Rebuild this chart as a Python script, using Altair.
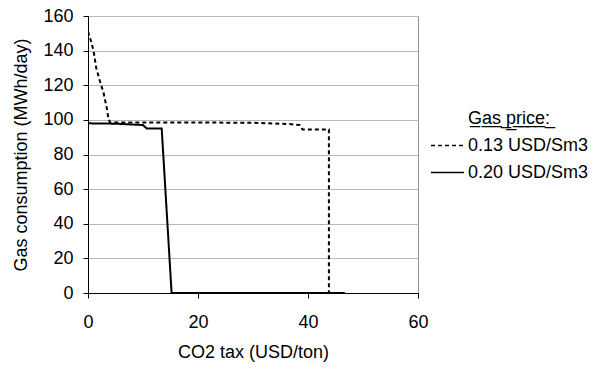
import altair as alt
import pandas as pd

# Series: gas price 0.13 USD/Sm3 (dashed)
x_013 = [0, 0.5, 1.0, 1.5, 2.2, 2.8, 3.4, 3.7, 4.0, 10, 20, 30, 37, 38.5, 39.0, 43.8, 43.8, 46.7]
y_013 = [151, 146, 140, 130, 122, 116, 107, 101, 98.5, 98.5, 98.5, 98.3, 97.5, 97.0, 94.5, 94.5, 0, 0]
# Series: gas price 0.20 USD/Sm3 (solid)
x_020 = [0, 5, 10.0, 10.7, 13.4, 15.2, 30, 46.7]
y_020 = [98, 97.8, 97.0, 95.0, 95.0, 0, 0, 0]

series_names = ["0.13 USD/Sm3", "0.20 USD/Sm3"]
x_ticks = [0, 20, 40, 60]
y_ticks = [0, 20, 40, 60, 80, 100, 120, 140, 160]

rows = []
for i, (xv, yv) in enumerate(zip(x_013, y_013)):
    rows.append({"tax": xv, "gas": yv, "series": series_names[0], "order": i})
for i, (xv, yv) in enumerate(zip(x_020, y_020)):
    rows.append({"tax": xv, "gas": yv, "series": series_names[1], "order": i})
df = pd.DataFrame(rows)

font = "Liberation Sans"

chart = alt.Chart(df).mark_line(color="black", strokeWidth=2, clip=True).encode(
    x=alt.X("tax:Q", title="CO2 tax (USD/ton)",
            scale=alt.Scale(domain=[0, 60], nice=False),
            axis=alt.Axis(values=x_ticks, grid=False, domain=True, domainColor="black",
                          tickColor="black", tickSize=5, labelPadding=15, titlePadding=12,
                          labelFlush=False)),
    y=alt.Y("gas:Q", title="Gas consumption (MWh/day)",
            scale=alt.Scale(domain=[0, 160], nice=False),
            axis=alt.Axis(values=y_ticks, grid=True, gridColor="#b8b8b8", domain=True,
                          domainColor="black", tickColor="black", tickSize=5,
                          labelPadding=10, titlePadding=12, labelFlush=False)),
    strokeDash=alt.StrokeDash("series:N",
        scale=alt.Scale(domain=series_names, range=[[4, 3], [1, 0]]),
        legend=alt.Legend(title="G\u0332a\u0332s\u0332 \u0332p\u0332r\u0332i\u0332c\u0332e\u0332:\u0332",
                          orient="none", legendX=342, legendY=94,
                          symbolType="stroke", symbolSize=1089, symbolStrokeColor="black",
                          symbolStrokeWidth=1.5, titleAnchor="middle",
                          rowPadding=0, labelOffset=3, titlePadding=0)),
    order="order:Q",
).properties(
    width=330, height=277,
    padding={"left": 80, "top": 8, "right": 171, "bottom": 70},
    autosize=alt.AutoSizeParams(type="none"),
).configure_view(
    stroke="#909090", strokeWidth=1
).configure_axis(
    labelFont=font, titleFont=font, labelFontSize=18, titleFontSize=18,
    labelColor="black", titleColor="black", titleFontWeight="normal"
).configure_legend(
    labelFont=font, titleFont=font, labelFontSize=18, titleFontSize=18,
    labelColor="black", titleColor="black", titleFontWeight="normal"
)

chart.save("out.html", embed_options={"renderer": "svg", "actions": False})
